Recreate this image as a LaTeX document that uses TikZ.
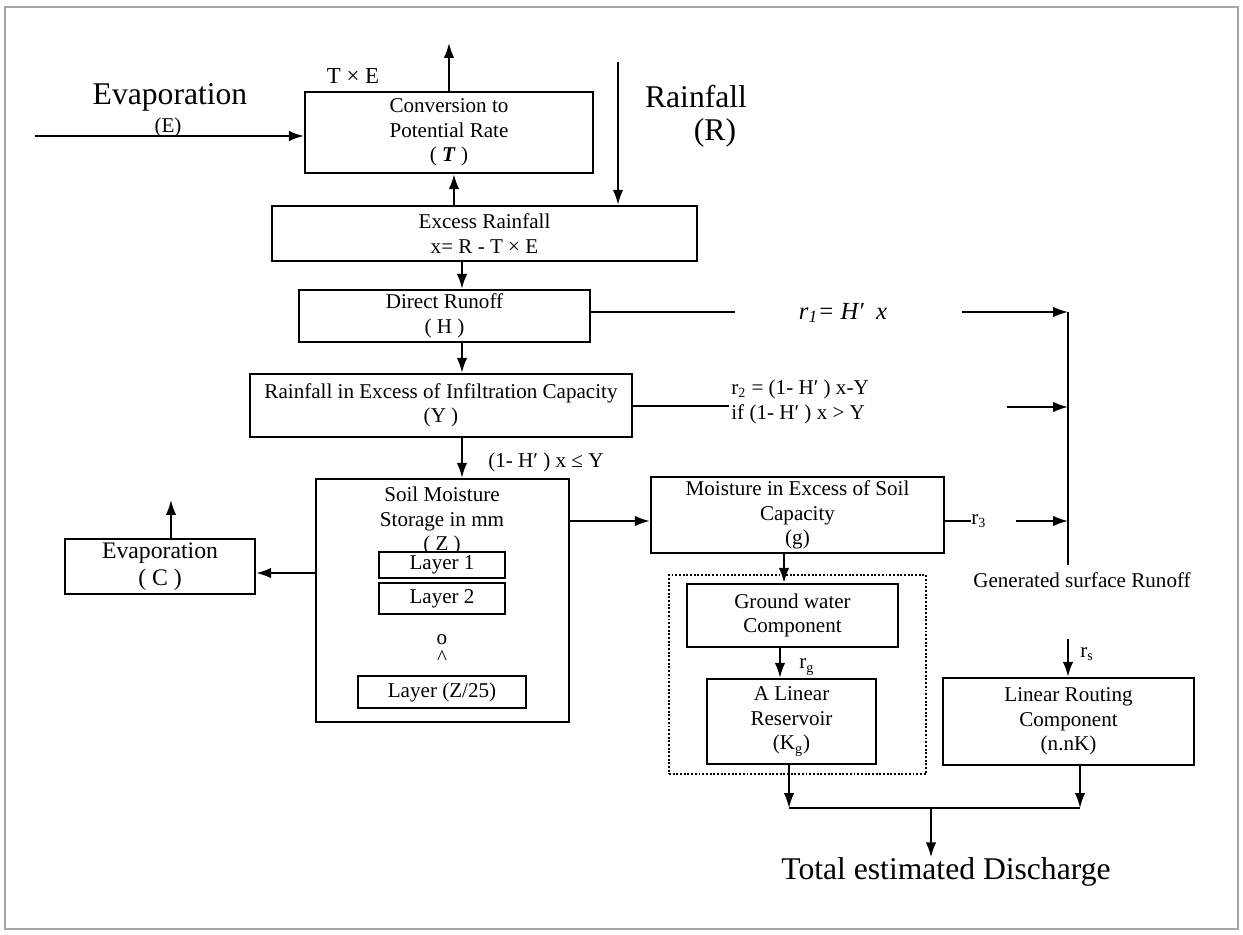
\documentclass[tikz,border=0pt]{standalone}
\usepackage{fontspec}
\setmainfont{Liberation Serif}
\usetikzlibrary{arrows.meta}

\begin{document}
\begin{tikzpicture}[x=0.02cm,y=-0.02cm,
  >={Latex[length=8.5pt,width=6pt]},
  box/.style={draw,line width=1.4pt,align=center,inner sep=0pt,font=\fontsize{12}{14}\selectfont},
  txt/.style={inner sep=0pt,align=center,font=\fontsize{12}{14}\selectfont},
  bigtxt/.style={inner sep=0pt,font=\fontsize{18}{21}\selectfont},
  flow/.style={line width=1.1pt}]
\useasboundingbox (0,0) rectangle (1243,935);
\draw[black!35,line width=1.2pt] (5,7) rectangle (1238,929);

% outside inputs
\node[bigtxt] (evtop) at (170,97) {Evaporation};
\node[txt] (elbl) at (168,127) {(E)};
\node[bigtxt] (rain) at (696,97) {Rainfall};
\node[bigtxt] (rlbl) at (715,133) {(R)};
\node[txt,font=\fontsize{13}{15}\selectfont] (te) at (353,76) {T × E};

% main column
\node[box,minimum width=5.76cm,minimum height=1.62cm] (conv) at (449,132.5) {Conversion to\\Potential Rate\\( \textbf{\textit{T}} )};
\node[box,minimum width=8.5cm,minimum height=1.1cm] (exc) at (484.5,233.5) {Excess Rainfall\\x= R - T × E};
\node[box,minimum width=5.82cm,minimum height=1.04cm] (dir) at (444.5,316) {Direct Runoff\\( H )};
\node[box,minimum width=7.64cm,minimum height=1.26cm] (inf) at (441,405.5) {Rainfall in Excess of Infiltration Capacity\\(Y )};
\node[box,minimum width=5.06cm,minimum height=4.86cm] (soil) at (442.5,600.5) {};
\node[txt] (soiltxt) at (442,521) {Soil Moisture\\Storage in mm\\( Z )};
\node[box,fill=white,line width=1.2pt,minimum width=2.52cm,minimum height=0.52cm] (lay1) at (442,565) {Layer 1};
\node[box,fill=white,line width=1.2pt,minimum width=2.52cm,minimum height=0.62cm] (lay2) at (442,598.5) {Layer 2};
\node[txt] (dot1) at (442,640) {o};
\node[txt] (dot2) at (442,658) {\^{}};
\node[box,line width=1.2pt,minimum width=3.36cm,minimum height=0.64cm] (layz) at (442,692) {Layer (Z/25)};
\node[box,font=\fontsize{13.5}{15}\selectfont,minimum width=3.8cm,minimum height=1.1cm] (evc) at (160,566.5) {Evaporation\\( C )};

% groundwater side
\node[box,minimum width=5.86cm,minimum height=1.52cm] (moist) at (797.5,515) {Moisture in Excess of Soil\\Capacity\\(g)};
\node[draw,densely dotted,line width=1.1pt,minimum width=5.14cm,minimum height=3.98cm] (gwgrp) at (797.5,674.5) {};
\node[box,minimum width=4.22cm,minimum height=1.26cm] (gw) at (792.5,615.5) {Ground water\\Component};
\node[box,minimum width=3.38cm,minimum height=1.7cm] (res) at (791.5,721.5) {A Linear\\Reservoir\\(K\textsubscript{g})};
\node[box,minimum width=5.02cm,minimum height=1.74cm] (rout) at (1068.5,721.5) {Linear Routing\\Component\\(n.nK)};
\node[txt] (gen) at (1082,580) {Generated surface Runoff};
\node[bigtxt] (total) at (946,872) {Total estimated Discharge};

% labels on the flows
\node[inner sep=0pt,font=\fontsize{14}{16}\selectfont] (r1) at (843,313) {\textit{r\textsubscript{1}= H′\ \ x}};
\node[txt,anchor=west,align=left] (r2) at (731,402) {r\textsubscript{2} = (1- H′ ) x-Y\\if (1- H′ ) x > Y};
\node[txt,anchor=west] (r3) at (971,521) {r\textsubscript{3}};
\node[txt,anchor=west] (rg) at (799,667) {r\textsubscript{g}};
\node[txt,anchor=west] (rs) at (1080,654) {r\textsubscript{s}};
\node[txt,anchor=west] (cond) at (488,462) {(1- H′ ) x ≤ Y};

% helper points
\coordinate (ein) at (35,136);
\coordinate (tetip) at (449,43);
\coordinate (rtop) at (618,62);
\coordinate (c0) at (454,0);
\coordinate (c1) at (462,0);
\coordinate (c2) at (784,0);
\coordinate (c3) at (780,0);
\coordinate (r1a) at (735,312);
\coordinate (r1b) at (962,312);
\coordinate (r2a) at (729,406);
\coordinate (r2b) at (1007,407);
\coordinate (r3row) at (0,521);
\coordinate (r3b) at (1016,521);
\coordinate (bustop) at (1068,312);
\coordinate (busbot) at (1068,565);
\coordinate (evrow) at (0,573);
\coordinate (evtip) at (171,500);
\coordinate (rstop) at (1068,639);
\coordinate (jl) at (789,808);
\coordinate (jm) at (931,808);
\coordinate (jr) at (1080,808);

% flows
\draw[flow,->] (ein) -- (ein -| conv.west);
\draw[flow,->] (conv.north) -- (tetip);
\draw[flow,->] (rtop) -- (rtop |- exc.north);
\draw[flow,->] (exc.north -| c0) -- (conv.south -| c0);
\draw[flow,->] (exc.south -| c1) -- (dir.north -| c1);
\draw[flow,->] (dir.south -| c1) -- (inf.north -| c1);
\draw[flow,->] (inf.south -| c1) -- (soil.north -| c1);
\draw[flow] (dir.east |- r1a) -- (r1a);
\draw[flow,->] (r1b) -- (bustop);
\draw[flow] (inf.east |- r2a) -- (r2a);
\draw[flow,->] (r2b) -- (r2b -| bustop);
\draw[flow,->] (soil.east |- r3row) -- (moist.west |- r3row);
\draw[flow] (moist.east |- r3row) -- (r3.west);
\draw[flow,->] (r3b) -- (r3b -| bustop);
\draw[line width=1.4pt] (bustop) -- (busbot);
\draw[flow,->] (soil.west |- evrow) -- (evc.east |- evrow);
\draw[flow,->] (evc.north -| evtip) -- (evtip);
\draw[flow,->] (moist.south -| c2) -- (gw.north -| c2);
\draw[flow,->] (gw.south -| c3) -- (res.north -| c3);
\draw[flow,->] (rstop) -- (rstop |- rout.north);
\draw[flow,->] (res.south -| jl) -- (jl);
\draw[flow,->] (rout.south -| jr) -- (jr);
\draw[flow] (jl) -- (jr);
\draw[flow,->] (jm) -- (jm |- total.north);
\end{tikzpicture}
\end{document}
